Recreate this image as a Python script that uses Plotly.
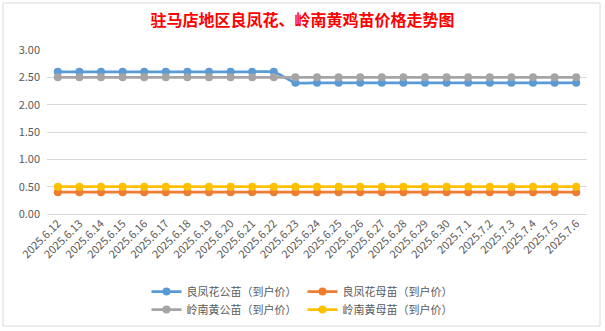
import plotly.graph_objects as go

# Dates (category axis)
dates = [
    "2025.6.12", "2025.6.13", "2025.6.14", "2025.6.15", "2025.6.16",
    "2025.6.17", "2025.6.18", "2025.6.19", "2025.6.20", "2025.6.21",
    "2025.6.22", "2025.6.23", "2025.6.24", "2025.6.25", "2025.6.26",
    "2025.6.27", "2025.6.28", "2025.6.29", "2025.6.30", "2025.7.1",
    "2025.7.2", "2025.7.3", "2025.7.4", "2025.7.5", "2025.7.6",
]

# Prices (到户价)
lfh_male = [2.60] * 11 + [2.40] * 14
lfh_female = [0.40] * 25
lnh_male = [2.50] * 25
lnh_female = [0.50] * 25

series_names = [
    "良凤花公苗（到户价）",
    "良凤花母苗（到户价）",
    "岭南黄公苗（到户价）",
    "岭南黄母苗（到户价）",
]
series_values = [lfh_male, lfh_female, lnh_male, lnh_female]
series_colors = ["#5B9BD5", "#ED7D31", "#A5A5A5", "#FFC000"]
# two legend rows, two entries each
series_legends = ["legend", "legend", "legend2", "legend2"]

font_family = "Noto Sans CJK SC, Noto Sans, sans-serif"
text_color = "#595959"

fig = go.Figure()
for name, vals, color, lg in zip(series_names, series_values, series_colors, series_legends):
    fig.add_trace(go.Scatter(
        x=list(range(len(dates))),
        y=vals,
        name=name,
        legend=lg,
        mode="lines+markers",
        line=dict(color=color, width=2.75, shape="spline", smoothing=0.5),
        marker=dict(color=color, size=8),
    ))

legend_common = dict(
    orientation="h",
    x=0.5, xanchor="center", xref="container",
    yanchor="top", yref="container",
    entrywidth=111, entrywidthmode="pixels",
    font=dict(size=11, color=text_color),
    itemwidth=30,
    bgcolor="rgba(0,0,0,0)",
)

fig.update_layout(
    width=605,
    height=331,
    margin=dict(l=47, r=18, t=50, b=117, autoexpand=False),
    paper_bgcolor="white",
    plot_bgcolor="white",
    font=dict(family=font_family, color=text_color, size=11),
    title=dict(
        text="<b>驻马店地区良凤花、岭南黄鸡苗价格走势图</b>",
        x=0.5, xanchor="center",
        y=1 - 20 / 331, yanchor="middle", yref="container",
        font=dict(family=font_family, color="#FF0000", size=16),
    ),
    showlegend=True,
    legend=dict(legend_common, y=(331 - 277) / 331),
    legend2=dict(legend_common, y=(331 - 295) / 331),
    xaxis=dict(
        tickmode="array",
        tickvals=list(range(len(dates))),
        ticktext=dates,
        range=[-0.5, len(dates) - 0.5],
        tickangle=-45,
        showgrid=False,
        showline=False,
        zeroline=False,
        ticks="",
        automargin=False,
        tickfont=dict(size=11, color=text_color),
    ),
    yaxis=dict(
        range=[0, 3.0],
        dtick=0.5,
        tickformat=".2f",
        showgrid=True,
        gridcolor="#D9D9D9",
        gridwidth=1,
        zeroline=True,
        zerolinecolor="#D9D9D9",
        zerolinewidth=1,
        showline=False,
        ticks="",
        automargin=False,
        ticklabelstandoff=6,
        tickfont=dict(size=11, color=text_color),
    ),
    shapes=[
        dict(type="rect", xref="paper", yref="paper",
             x0=-44 / 540, x1=1 + 13 / 540, y0=-112 / 164, y1=1 + 47 / 164,
             line=dict(color="#D9D9D9", width=1), layer="below"),
    ],
)

fig.write_html("out.html")
